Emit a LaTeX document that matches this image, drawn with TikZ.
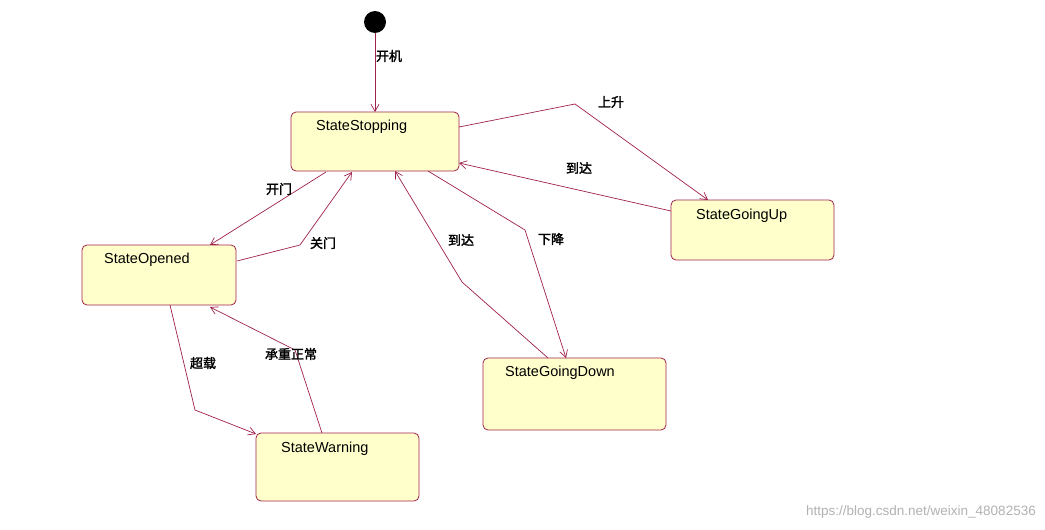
\documentclass[tikz,border=0pt]{standalone}
\usepackage{fontspec}
\setmainfont{Liberation Sans}
\newfontfamily\cjk[FakeBold=2]{Noto Sans CJK SC}
\usetikzlibrary{arrows.meta}
\definecolor{bd}{HTML}{A0224A}
\definecolor{fl}{HTML}{FFFFCC}
\tikzset{
 st/.style={draw=bd,fill=fl,rounded corners=5pt,line width=0.8pt},
 tx/.style={font=\fontsize{14.5}{16}\selectfont,anchor=north west,inner sep=0pt},
 lb/.style={font=\cjk\fontsize{13}{15}\selectfont,inner sep=0pt},
 ed/.style={draw=bd,line width=0.7pt,-{Straight Barb[length=7pt,width=8pt]}}
}
\begin{document}
\begin{tikzpicture}[x=1pt,y=-1pt]
\useasboundingbox[fill=white] (0,0) rectangle (1045,530);
\fill (375,22) circle (11) coordinate (init);
\coordinate (i0) at (375,33);
\draw[st] (291,112) rectangle (459,171); \node[tx] (s) at (316,120) {StateStopping};
\draw[st] (671,200) rectangle (834,260); \node[tx] (u) at (696,209) {StateGoingUp};
\draw[st] (82,245) rectangle (236,305); \node[tx] (o) at (104,253) {StateOpened};
\draw[st] (483,358) rectangle (666,430); \node[tx] (d) at (505,366) {StateGoingDown};
\draw[st] (256,433) rectangle (419,501); \node[tx] (w) at (281,442) {StateWarning};
\draw[ed] (i0) -- (375,112);
\node[lb] (l1) at (389,56) {开机};
\draw[ed] (459,127) -- (575,104) -- (708,200);
\node[lb] (l2) at (611,102) {上升};
\draw[ed] (671,211) -- (459,163);
\node[lb] (l3) at (579,168) {到达};
\draw[ed] (326,172) -- (210,245);
\node[lb] (l4) at (279,189) {开门};
\draw[ed] (237,261) -- (300,245) -- (352,172);
\node[lb] (l5) at (323,243) {关门};
\draw[ed] (428,171) -- (525,230) -- (566,358);
\node[lb] (l6) at (551,239) {下降};
\draw[ed] (548,358) -- (462,282) -- (395,171);
\node[lb] (l7) at (461,240) {到达};
\draw[ed] (170,305) -- (195,410) -- (256,434);
\node[lb] (l8) at (203,363) {超载};
\draw[ed] (322,433) -- (295,350) -- (210,307);
\node[lb] (l9) at (291,354) {承重正常};
\node[font=\fontsize{13.5}{15}\selectfont,text=black!30,inner sep=0pt,anchor=east] (wm) at (1036,512) {https://blog.csdn.net/weixin\_48082536};
\end{tikzpicture}
\end{document}
